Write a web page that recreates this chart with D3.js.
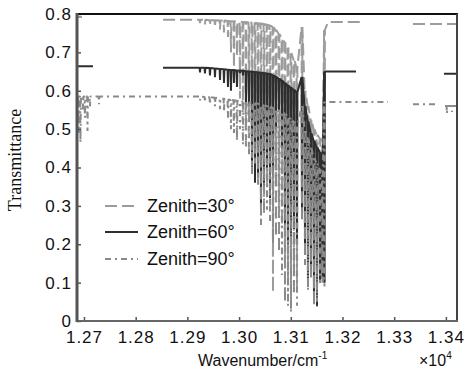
<!DOCTYPE html>
<html>
<head>
<meta charset="utf-8">
<script src="https://cdn.jsdelivr.net/npm/d3@7"></script>
<style>
  body { margin: 0; background: #fff; }
  svg { display: block; }
</style>
</head>
<body>
<svg id="chart" width="471" height="373"></svg>
<script>
// Wavenumber axis is in units of 10^4 cm^-1
const xTicks = [1.27, 1.28, 1.29, 1.30, 1.31, 1.32, 1.33, 1.34];
const yTicks = [0, 0.1, 0.2, 0.3, 0.4, 0.5, 0.6, 0.7, 0.8];
const seriesNames = ["Zenith=30\u00b0", "Zenith=60\u00b0", "Zenith=90\u00b0"];

// Centres of the absorption lines in the band:
// weak wing, P branch, band origin, R branch, band head
const bandLines = [
  1.29244, 1.29340, 1.29437, 1.29534, 1.29631, 1.29708,
  1.29785, 1.29843, 1.29901, 1.29959, 1.30017, 1.30075, 1.30133, 1.30191,
  1.30250, 1.30308, 1.30366, 1.30424, 1.30482, 1.30540, 1.30598, 1.30656,
  1.30714, 1.30772, 1.30830, 1.30888, 1.30946, 1.31004, 1.31062, 1.31120,
  1.31217,
  1.31275, 1.31333, 1.31391, 1.31449, 1.31507, 1.31565, 1.31613,
  1.31652
];
// Half-width of a line, same units as the wavenumber axis
const lineHalfWidth = 0.00008;

// Transmittance between lines (top) and at line centre (dip), per zenith angle
const top30 = [
  0.785, 0.785, 0.784, 0.784, 0.783, 0.783,
  0.782, 0.781, 0.781, 0.780, 0.780, 0.779, 0.779, 0.778,
  0.778, 0.777, 0.776, 0.775, 0.774, 0.772, 0.770, 0.766,
  0.758, 0.748, 0.738, 0.726, 0.712, 0.698, 0.680, 0.660,
  0.766,
  0.600, 0.560, 0.525, 0.500, 0.485, 0.476, 0.468,
  0.758
];
const dip30 = [
  0.776, 0.773, 0.770, 0.766, 0.760, 0.752,
  0.740, 0.700, 0.660, 0.690, 0.580, 0.550, 0.500, 0.520,
  0.450, 0.420, 0.400, 0.360, 0.400, 0.350, 0.380, 0.075,
  0.350, 0.300, 0.250, 0.160, 0.100, 0.050, 0.120, 0.080,
  0.300,
  0.250, 0.100, 0.200, 0.100, 0.034, 0.140, 0.150,
  0.100
];
const top60 = [
  0.660, 0.660, 0.659, 0.658, 0.657, 0.656,
  0.655, 0.654, 0.654, 0.653, 0.653, 0.652, 0.651, 0.650,
  0.650, 0.649, 0.648, 0.647, 0.646, 0.645, 0.644, 0.640,
  0.636, 0.632, 0.626, 0.620, 0.614, 0.608, 0.602, 0.596,
  0.636,
  0.560, 0.520, 0.490, 0.470, 0.452, 0.440, 0.430,
  0.650
];
const dip60 = [
  0.648, 0.645, 0.640, 0.635, 0.628, 0.620,
  0.610, 0.600, 0.620, 0.610, 0.645, 0.640, 0.570, 0.560,
  0.400, 0.360, 0.380, 0.300, 0.350, 0.400, 0.320, 0.380,
  0.500, 0.550, 0.450, 0.250, 0.200, 0.220, 0.240, 0.200,
  0.280,
  0.200, 0.090, 0.120, 0.050, 0.040, 0.100, 0.110,
  0.100
];
const top90 = [
  0.585, 0.584, 0.583, 0.582, 0.580, 0.579,
  0.577, 0.576, 0.575, 0.574, 0.573, 0.572, 0.571, 0.570,
  0.569, 0.568, 0.566, 0.564, 0.563, 0.560, 0.558, 0.556,
  0.553, 0.549, 0.545, 0.540, 0.534, 0.527, 0.519, 0.510,
  0.560,
  0.500, 0.475, 0.450, 0.425, 0.410, 0.395, 0.383,
  0.571
];
const dip90 = [
  0.575, 0.570, 0.565, 0.560, 0.552, 0.545,
  0.530, 0.500, 0.490, 0.470, 0.500, 0.460, 0.450, 0.430,
  0.380, 0.410, 0.350, 0.250, 0.280, 0.290, 0.260, 0.200,
  0.220, 0.180, 0.120, 0.050, 0.040, 0.023, 0.070, 0.040,
  0.260,
  0.146, 0.080, 0.110, 0.040, 0.050, 0.100, 0.100,
  0.090
];

// Lines near the low-wavenumber edge (Zenith=90 only)
const edgeLines90 = [1.26894, 1.26932, 1.26981, 1.27019, 1.27068, 1.27116, 1.27290];
const edgeDip90 = [0.490, 0.465, 0.550, 0.530, 0.495, 0.560, 0.565];
const edgeTop90 = 0.585;
// Weak lines near the high-wavenumber edge (Zenith=90 only)
const tailLines90 = [1.34021, 1.34118];
const tailDip90 = [0.540, 0.545];
const tailTop90 = 0.560;

// Continuum pieces outside the band; null marks a break in the record
const left30 = [[1.26865, 0.792], [1.26960, 0.792], null, [1.28530, 0.785], [1.29200, 0.785]];
const right30 = [[1.31720, 0.779], [1.32397, 0.779], null, [1.33364, 0.774], [1.34215, 0.774]];
const left60 = [[1.26865, 0.664], [1.27174, 0.664], null, [1.28528, 0.660], [1.29200, 0.660]];
const right60 = [[1.31720, 0.650], [1.32261, 0.650], null, [1.33963, 0.644], [1.34215, 0.644]];
const left90 = [[1.26865, 0.585], [1.29200, 0.585]];
const right90a = [[1.31680, 0.571], [1.32880, 0.571], null, [1.33364, 0.565], [1.33809, 0.565], null, [1.33983, 0.560]];
const right90b = [[1.34215, 0.560]];

// Scales and layout
const plot = { left: 77, right: 457, top: 14, bottom: 321 };
const x = d3.scaleLinear().domain([1.26865, 1.34215]).range([plot.left, plot.right]);
const y = d3.scaleLinear().domain([0, 0.8]).range([plot.bottom, plot.top]);

const svg = d3.select("#chart");

svg.append("defs").append("clipPath").attr("id", "plotClip")
  .append("rect")
  .attr("x", plot.left).attr("y", plot.top - 2)
  .attr("width", plot.right - plot.left).attr("height", plot.bottom - plot.top + 2);

// Each absorption line is a narrow V: top -> dip at the centre -> top
function absorptionLines(centres, tops, dips, hw) {
  const pts = [];
  centres.forEach((c, i) => {
    const t = Array.isArray(tops) ? tops[i] : tops;
    pts.push([c - hw, t], [c, dips[i]], [c + hw, t]);
  });
  return pts;
}

const s30 = [...left30, ...absorptionLines(bandLines, top30, dip30, lineHalfWidth), ...right30];
const s60 = [...left60, ...absorptionLines(bandLines, top60, dip60, lineHalfWidth), ...right60];
const s90 = [
  left90[0],
  ...absorptionLines(edgeLines90, edgeTop90, edgeDip90, lineHalfWidth),
  left90[1],
  ...absorptionLines(bandLines, top90, dip90, lineHalfWidth),
  ...right90a,
  ...absorptionLines(tailLines90, tailTop90, tailDip90, lineHalfWidth),
  ...right90b
];

const series = [
  { name: seriesNames[0], data: s30, color: "#9c9c9c", dash: "12,5", width: 2 },
  { name: seriesNames[1], data: s60, color: "#2e2e2e", dash: null, width: 2 },
  { name: seriesNames[2], data: s90, color: "#8a8a8a", dash: "6,4,2,4", width: 2 }
];

const line = d3.line()
  .defined(d => d !== null)
  .x(d => x(d[0]))
  .y(d => y(d[1]));

const gLines = svg.append("g").attr("clip-path", "url(#plotClip)");
gLines.selectAll("path")
  .data(series)
  .join("path")
  .attr("d", d => line(d.data))
  .attr("fill", "none")
  .attr("stroke", d => d.color)
  .attr("stroke-width", d => d.width)
  .attr("stroke-dasharray", d => d.dash)
  .attr("stroke-linejoin", "bevel")
  .attr("stroke-linecap", "butt");

// Axes
const tickFont = "'Liberation Sans', Arial, sans-serif";

const xAxis = d3.axisBottom(x)
  .tickValues(xTicks)
  .tickSizeInner(-4)
  .tickSizeOuter(0)
  .tickPadding(10)
  .tickFormat(d3.format(".2f"));

const gx = svg.append("g")
  .attr("transform", `translate(0,${plot.bottom})`)
  .call(xAxis);
gx.select(".domain").remove();
gx.selectAll(".tick line").attr("stroke", "#555").attr("stroke-width", 1.5);
gx.selectAll(".tick text")
  .attr("font-family", tickFont).attr("font-size", 17)
  .attr("letter-spacing", 1).attr("fill", "#111");

const yAxis = d3.axisLeft(y)
  .tickValues(yTicks)
  .tickSizeInner(-4)
  .tickSizeOuter(0)
  .tickPadding(5)
  .tickFormat(d => d === 0 ? "0" : d3.format(".1f")(d));

const gy = svg.append("g")
  .attr("transform", `translate(${plot.left},0)`)
  .call(yAxis);
gy.select(".domain").remove();
gy.selectAll(".tick line").attr("stroke", "#555").attr("stroke-width", 1.5);
gy.selectAll(".tick text")
  .attr("font-family", tickFont).attr("font-size", 17)
  .attr("letter-spacing", 1).attr("fill", "#111");

// Frame
const frame = svg.append("g");
frame.append("line").attr("x1", plot.left - 1).attr("x2", plot.right + 1)
  .attr("y1", plot.top).attr("y2", plot.top)
  .attr("stroke", "#111").attr("stroke-width", 2);
frame.append("line").attr("x1", plot.right).attr("x2", plot.right)
  .attr("y1", plot.top).attr("y2", plot.bottom)
  .attr("stroke", "#444").attr("stroke-width", 2);
frame.append("line").attr("x1", plot.left - 1).attr("x2", plot.right + 1)
  .attr("y1", plot.bottom).attr("y2", plot.bottom)
  .attr("stroke", "#666").attr("stroke-width", 2);
frame.append("line").attr("x1", plot.left).attr("x2", plot.left)
  .attr("y1", plot.top - 1).attr("y2", plot.bottom + 1)
  .attr("stroke", "#555").attr("stroke-width", 3);

// Axis titles
svg.append("text")
  .attr("transform", "translate(21,160) rotate(-90)")
  .attr("text-anchor", "middle")
  .attr("font-family", "'Liberation Serif', 'Times New Roman', serif")
  .attr("font-size", 18)
  .attr("fill", "#111")
  .text("Transmittance");

const xt = svg.append("text")
  .attr("x", 198).attr("y", 366)
  .attr("font-family", tickFont)
  .attr("font-size", 16)
  .attr("fill", "#111");
xt.append("tspan").text("Wavenumber/cm");
xt.append("tspan").attr("dy", -7).attr("font-size", 10).text("-1");

const xs = svg.append("text")
  .attr("x", 419).attr("y", 366)
  .attr("font-family", tickFont)
  .attr("font-size", 16)
  .attr("fill", "#111");
xs.append("tspan").text("\u00d710");
xs.append("tspan").attr("dy", -7).attr("font-size", 10).text("4");

// Legend
const legendY = [206, 232, 259];
const legend = svg.append("g");
series.forEach((s, i) => {
  legend.append("line")
    .attr("x1", 105).attr("x2", 138)
    .attr("y1", legendY[i]).attr("y2", legendY[i])
    .attr("stroke", s.color)
    .attr("stroke-width", 2)
    .attr("stroke-dasharray", s.dash);
  legend.append("text")
    .attr("x", 147).attr("y", legendY[i] + 6)
    .attr("font-family", tickFont)
    .attr("font-size", 18)
    .attr("fill", "#111")
    .text(s.name);
});
</script>
</body>
</html>
